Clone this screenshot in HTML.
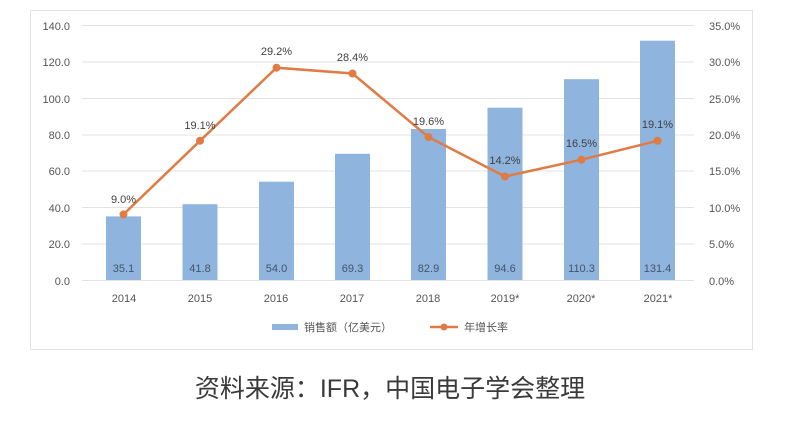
<!DOCTYPE html>
<html><head><meta charset="utf-8"><style>
body{margin:0;background:#fff;}
svg{display:block;font-family:"Liberation Sans","Noto Sans CJK SC",sans-serif;}
</style></head><body>
<svg width="785" height="436" viewBox="0 0 785 436">
<rect x="30.5" y="10.5" width="722" height="339" fill="#fff" stroke="#e2e2e2"/>
<g stroke="#e3e3e3" stroke-width="1">
<line x1="82" x2="694" y1="25.5" y2="25.5"/><line x1="82" x2="694" y1="62" y2="62"/><line x1="82" x2="694" y1="98.5" y2="98.5"/><line x1="82" x2="694" y1="135" y2="135"/><line x1="82" x2="694" y1="171" y2="171"/><line x1="82" x2="694" y1="207.5" y2="207.5"/><line x1="82" x2="694" y1="244" y2="244"/><line x1="82" x2="694" y1="280.5" y2="280.5"/>
</g>
<g font-size="11" fill="#555" text-anchor="end">
<text x="70" y="30">140.0</text><text x="70" y="66">120.0</text><text x="70" y="103">100.0</text><text x="70" y="139">80.0</text><text x="70" y="175">60.0</text><text x="70" y="212">40.0</text><text x="70" y="248">20.0</text><text x="70" y="285">0.0</text>
</g>
<g font-size="11" fill="#555" text-anchor="start">
<text x="709" y="30">35.0%</text><text x="709" y="66">30.0%</text><text x="709" y="103">25.0%</text><text x="709" y="139">20.0%</text><text x="709" y="175">15.0%</text><text x="709" y="212">10.0%</text><text x="709" y="248">5.0%</text><text x="709" y="285">0.0%</text>
</g>
<g fill="#8fb4de">
<rect x="106" y="216.4" width="35" height="63.6"/>
<rect x="182.5" y="204.2" width="35" height="75.8"/>
<rect x="259" y="181.7" width="35" height="98.3"/>
<rect x="335" y="153.8" width="35" height="126.2"/>
<rect x="411" y="129" width="35" height="151"/>
<rect x="487.5" y="107.7" width="35" height="172.3"/>
<rect x="564" y="79.2" width="35" height="200.8"/>
<rect x="640" y="40.7" width="35" height="239.3"/>
</g>
<g font-size="11" fill="#44546a" text-anchor="middle">
<text x="123.5" y="272">35.1</text><text x="200" y="272">41.8</text><text x="276.5" y="272">54.0</text><text x="352.5" y="272">69.3</text><text x="428.5" y="272">82.9</text><text x="505" y="272">94.6</text><text x="581.5" y="272">110.3</text><text x="657.5" y="272">131.4</text>
</g>
<g font-size="11" fill="#555" text-anchor="middle">
<text x="124" y="302">2014</text><text x="200" y="302">2015</text><text x="276" y="302">2016</text><text x="352" y="302">2017</text><text x="428" y="302">2018</text><text x="505" y="302">2019*</text><text x="581" y="302">2020*</text><text x="658" y="302">2021*</text>
</g>
<polyline fill="none" stroke="#e07b45" stroke-width="2.5" points="123.5,214.4 200,140.8 276.5,67.7 352.5,73.5 428.5,137.1 505,176.5 581.5,159.7 657.5,140.8"/>
<g fill="#e07b45">
<circle cx="123.5" cy="214.4" r="4"/><circle cx="200" cy="140.8" r="4"/><circle cx="276.5" cy="67.7" r="4"/><circle cx="352.5" cy="73.5" r="4"/><circle cx="428.5" cy="137.1" r="4"/><circle cx="505" cy="176.5" r="4"/><circle cx="581.5" cy="159.7" r="4"/><circle cx="657.5" cy="140.8" r="4"/>
</g>
<g font-size="11" fill="#404040" text-anchor="middle">
<text x="123.5" y="203">9.0%</text><text x="200" y="129">19.1%</text><text x="276.5" y="55">29.2%</text><text x="352.5" y="61">28.4%</text><text x="428.5" y="125">19.6%</text><text x="505" y="164">14.2%</text><text x="581.5" y="147">16.5%</text><text x="657.5" y="128">19.1%</text>
</g>
<rect x="272" y="324" width="26" height="6" fill="#8fb4de"/>
<text x="304" y="331" font-size="11" fill="#555">销售额（亿美元）</text>
<line x1="430" x2="458" y1="327" y2="327" stroke="#e07b45" stroke-width="2.5"/>
<circle cx="444" cy="327" r="3.5" fill="#e07b45"/>
<text x="464" y="331" font-size="11" fill="#555">年增长率</text>
<text x="390" y="397" font-size="25" fill="#3a3a3a" text-anchor="middle">资料来源：IFR，中国电子学会整理</text>
</svg>
</body></html>
